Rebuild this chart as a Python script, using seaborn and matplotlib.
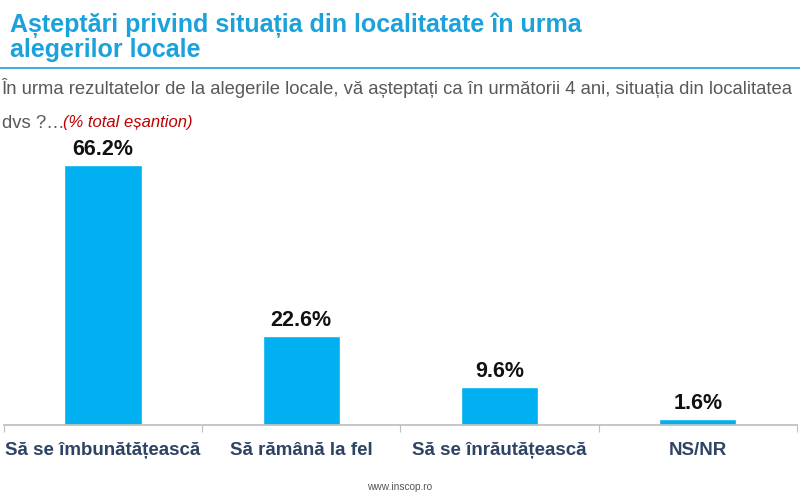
import matplotlib.pyplot as plt
import numpy as np
import pandas as pd
import seaborn as sns

categories = ["Să se îmbunătățească", "Să rămână la fel", "Să se înrăutățească", "NS/NR"]
values = [66.2, 22.6, 9.6, 1.6]
labels = ["66.2%", "22.6%", "9.6%", "1.6%"]

df = pd.DataFrame({"categorie": categories, "procent": values})

sns.set_theme(style="white")
plt.rcParams["font.family"] = ["Liberation Sans", "DejaVu Sans"]

fig = plt.figure(figsize=(8, 5), dpi=100)
ax = fig.add_axes([0.005, 0.15, 0.991, 0.55])

sns.barplot(data=df, x="categorie", y="procent", color="#00B0F0",
            saturation=1, width=0.39, ax=ax)

for i, (v, lab) in enumerate(zip(values, labels)):
    ax.text(i, v + 1.3, lab, ha="center", va="bottom", fontsize=15.5,
            fontweight="bold", color="#111111")

ax.set_ylim(0, 70)
ax.set_xlim(-0.5, len(categories) - 0.5)
ax.set_xlabel("")
ax.set_ylabel("")
ax.set_yticks([])
for s in ["top", "right", "left"]:
    ax.spines[s].set_visible(False)
ax.spines["bottom"].set_color("#BFBFBF")
ax.tick_params(axis="x", which="major", length=0, pad=12, labelsize=13.5,
               labelcolor="#2E4465")
for t in ax.get_xticklabels():
    t.set_fontweight("bold")
ax.set_xticks(np.arange(-0.5, len(categories)), minor=True)
ax.tick_params(axis="x", which="minor", bottom=True, length=5, width=0.8,
               color="#BFBFBF", direction="out")

title_font = ["Liberation Sans Narrow", "Liberation Sans", "DejaVu Sans"]
fig.text(0.012, 0.950, "Așteptări privind situația din localitatate în urma",
         fontsize=18, fontweight="bold", color="#1BA1DB", family=title_font,
         va="center")
fig.text(0.012, 0.899, "alegerilor locale", fontsize=18, fontweight="bold",
         color="#1BA1DB", family=title_font, va="center")
fig.add_artist(plt.Line2D([0, 1], [0.864, 0.864], color="#1BA1DB", lw=1.2,
                          transform=fig.transFigure))
fig.text(0.002, 0.824,
         "În urma rezultatelor de la alegerile locale, vă așteptați ca în următorii 4 ani, situația din localitatea",
         fontsize=13.3, color="#595959", va="center")
fig.text(0.002, 0.754, "dvs ?…", fontsize=13.3, color="#595959", va="center")
fig.text(0.079, 0.754, "(% total eșantion)", fontsize=12, color="#C00000",
         style="italic", va="center")
fig.text(0.5, 0.027, "www.inscop.ro", fontsize=7.3, color="#555555",
         ha="center", va="center")

fig.savefig("out.png", dpi=100)
